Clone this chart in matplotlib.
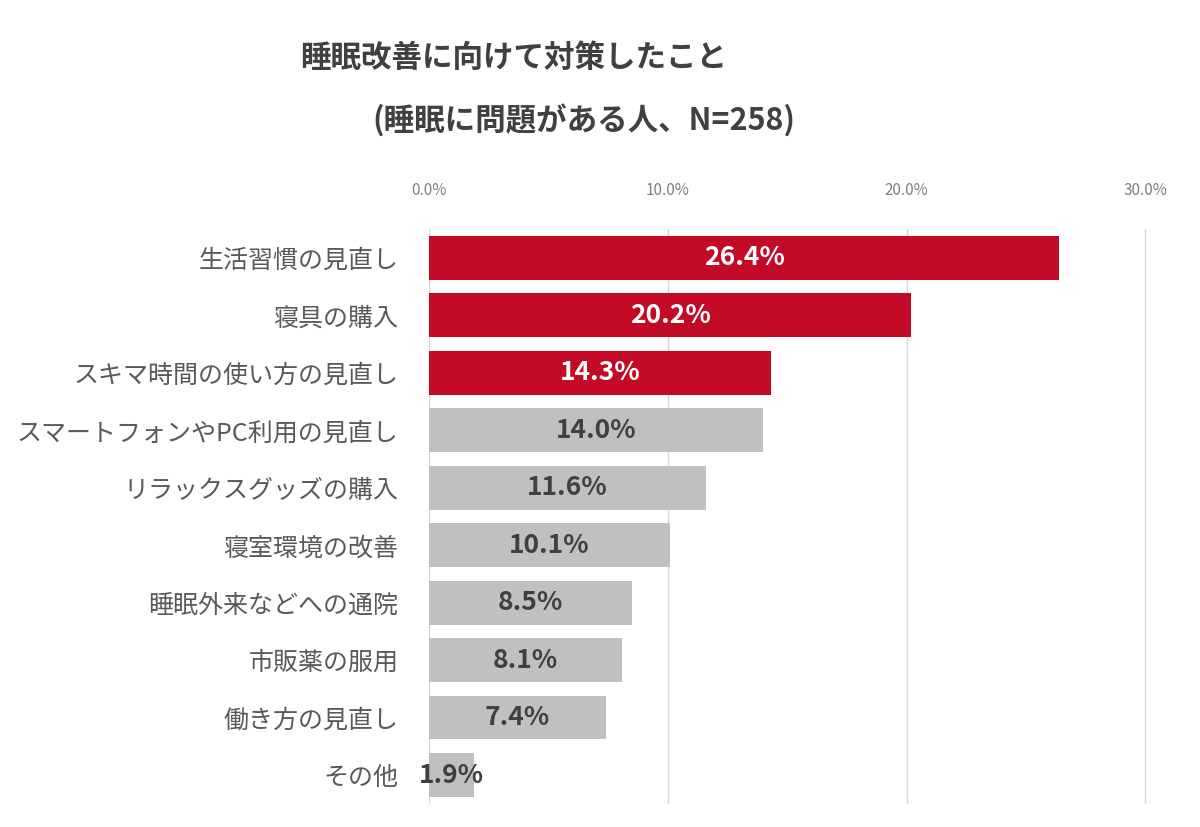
import matplotlib.pyplot as plt

plt.rcParams['font.family'] = ['Noto Sans CJK JP', 'DejaVu Sans']

categories = ['生活習慣の見直し', '寝具の購入', 'スキマ時間の使い方の見直し',
              'スマートフォンやPC利用の見直し', 'リラックスグッズの購入', '寝室環境の改善',
              '睡眠外来などへの通院', '市販薬の服用', '働き方の見直し', 'その他']
values = [26.4, 20.2, 14.3, 14.0, 11.6, 10.1, 8.5, 8.1, 7.4, 1.9]
highlight = [True, True, True, False, False, False, False, False, False, False]

red = '#C20A26'
gray = '#C0C0C0'

dpi = 100
fig = plt.figure(dpi=dpi, figsize=(1200 / dpi, 827 / dpi))
ax = fig.add_axes([0.3575, 0.028, 0.609, 0.695])

ypos = list(range(len(categories)))
colors = [red if h else gray for h in highlight]
bars = ax.barh(ypos, values, height=0.76, color=colors, zorder=2)

for y, v, h in zip(ypos, values, highlight):
    ax.text(v / 2, y, f'{v:.1f}%', ha='center', va='center', fontsize=19,
            fontweight='bold', color='white' if h else '#404040', zorder=3)

ax.set_yticks(ypos)
ax.set_yticklabels(categories, fontsize=18, color='#595959')
ax.invert_yaxis()
ax.set_ylim(len(categories) - 0.5, -0.5)

ax.set_xlim(0, 30.6)
ax.set_xticks([0, 10, 20, 30])
ax.set_xticklabels(['0.0%', '10.0%', '20.0%', '30.0%'], fontsize=11, color='#7F7F7F')
ax.xaxis.tick_top()
ax.tick_params(axis='x', length=0, pad=22)
ax.tick_params(axis='y', length=0, pad=22)
ax.grid(axis='x', color='#D9D9D9', linewidth=1, zorder=0)
for s in ax.spines.values():
    s.set_visible(False)

fig.text(0.25, 0.93, '睡眠改善に向けて対策したこと', fontsize=22, fontweight='bold',
         color='#404040', ha='left', va='center')
fig.text(0.31, 0.853, '(睡眠に問題がある人、N=258)', fontsize=22, fontweight='bold',
         color='#404040', ha='left', va='center')

fig.savefig('out.png', dpi=dpi, facecolor='white')
